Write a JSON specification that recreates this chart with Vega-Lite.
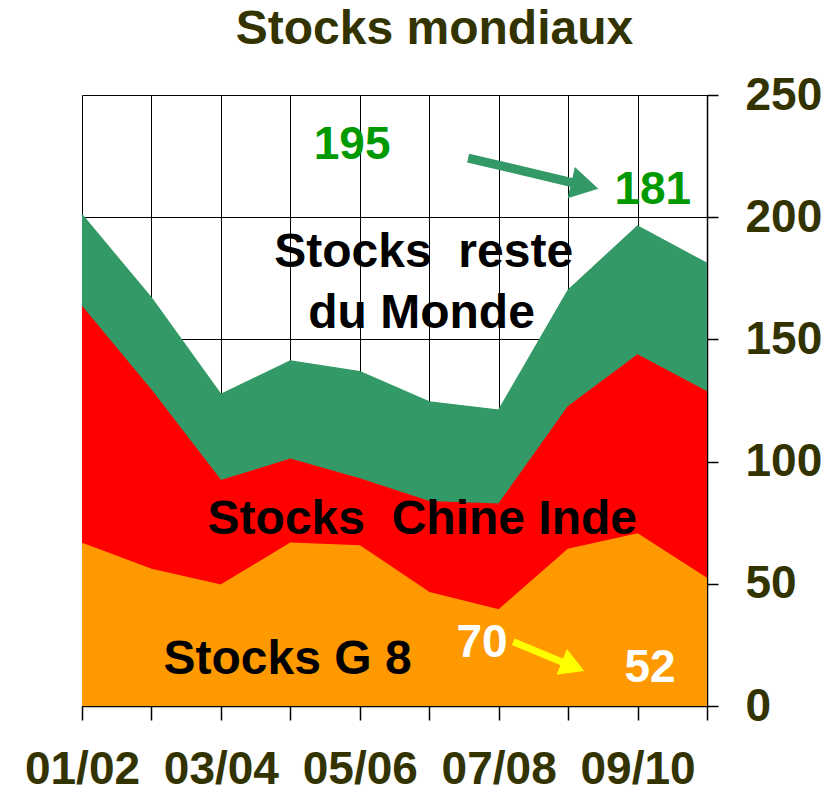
{
  "$schema": "https://vega.github.io/schema/vega-lite/v6.json",
  "width": 625,
  "height": 611,
  "autosize": "none",
  "padding": {"left": 82, "top": 95, "right": 133, "bottom": 86},
  "background": "white",
  "title": {
    "text": "Stocks mondiaux",
    "font": "Liberation Sans",
    "fontSize": 48,
    "fontWeight": "bold",
    "color": "#333300",
    "anchor": "middle",
    "frame": "group",
    "dx": 40,
    "baseline": "alphabetic",
    "offset": -20
  },
  "config": {
    "view": {"stroke": null},
    "axis": {
      "labelFont": "Liberation Sans",
      "labelFontSize": 46,
      "labelFontWeight": "bold",
      "labelColor": "#333300",
      "grid": true,
      "gridColor": "black",
      "gridOpacity": 1,
      "gridWidth": 1,
      "domainColor": "black",
      "domainWidth": 1.5,
      "tickColor": "black",
      "tickWidth": 1.5,
      "title": null
    }
  },
  "datasets": {
    "stocks": [
      {"idx": 0, "serie": "G 8", "ordre": 1, "valeur": 66.6},
      {"idx": 1, "serie": "G 8", "ordre": 1, "valeur": 55.9},
      {"idx": 2, "serie": "G 8", "ordre": 1, "valeur": 49.5},
      {"idx": 3, "serie": "G 8", "ordre": 1, "valeur": 66.6},
      {"idx": 4, "serie": "G 8", "ordre": 1, "valeur": 65.5},
      {"idx": 5, "serie": "G 8", "ordre": 1, "valeur": 46.4},
      {"idx": 6, "serie": "G 8", "ordre": 1, "valeur": 39.3},
      {"idx": 7, "serie": "G 8", "ordre": 1, "valeur": 64.1},
      {"idx": 8, "serie": "G 8", "ordre": 1, "valeur": 70.4},
      {"idx": 9, "serie": "G 8", "ordre": 1, "valeur": 52.2},
      {"idx": 0, "serie": "Chine Inde", "ordre": 2, "valeur": 96.8},
      {"idx": 1, "serie": "Chine Inde", "ordre": 2, "valeur": 73.2},
      {"idx": 2, "serie": "Chine Inde", "ordre": 2, "valeur": 42.7},
      {"idx": 3, "serie": "Chine Inde", "ordre": 2, "valeur": 34.4},
      {"idx": 4, "serie": "Chine Inde", "ordre": 2, "valeur": 27.5},
      {"idx": 5, "serie": "Chine Inde", "ordre": 2, "valeur": 37.2},
      {"idx": 6, "serie": "Chine Inde", "ordre": 2, "valeur": 43.3},
      {"idx": 7, "serie": "Chine Inde", "ordre": 2, "valeur": 58.4},
      {"idx": 8, "serie": "Chine Inde", "ordre": 2, "valeur": 73.2},
      {"idx": 9, "serie": "Chine Inde", "ordre": 2, "valeur": 76.4},
      {"idx": 0, "serie": "reste du Monde", "ordre": 3, "valeur": 37.6},
      {"idx": 1, "serie": "reste du Monde", "ordre": 3, "valeur": 37.9},
      {"idx": 2, "serie": "reste du Monde", "ordre": 3, "valeur": 35.3},
      {"idx": 3, "serie": "reste du Monde", "ordre": 3, "valeur": 40.2},
      {"idx": 4, "serie": "reste du Monde", "ordre": 3, "valeur": 43.8},
      {"idx": 5, "serie": "reste du Monde", "ordre": 3, "valeur": 40.9},
      {"idx": 6, "serie": "reste du Monde", "ordre": 3, "valeur": 38.5},
      {"idx": 7, "serie": "reste du Monde", "ordre": 3, "valeur": 47.7},
      {"idx": 8, "serie": "reste du Monde", "ordre": 3, "valeur": 52.8},
      {"idx": 9, "serie": "reste du Monde", "ordre": 3, "valeur": 52.5}
    ],
    "textes": [
      {"role": "vert", "texte": "195", "x": 3.89, "y": 229.5},
      {"role": "vert", "texte": "181", "x": 8.22, "y": 211.3},
      {"role": "noir", "texte": "Stocks \u00a0reste", "x": 4.92, "y": 185.5},
      {"role": "noir", "texte": "du Monde", "x": 4.89, "y": 160.5},
      {"role": "noir", "texte": "Stocks \u00a0Chine Inde", "x": 4.9, "y": 76.0},
      {"role": "noir", "texte": "Stocks G 8", "x": 2.96, "y": 18.8},
      {"role": "blanc", "texte": "70", "x": 5.76, "y": 25.6},
      {"role": "blanc", "texte": "52", "x": 8.18, "y": 15.4}
    ],
    "fleches": [
      {"fleche": "verte", "x": 5.56, "y": 224.2, "x2": 7.24, "y2": 212.9},
      {"fleche": "jaune", "x": 6.21, "y": 26.3, "x2": 7.07, "y2": 16.2}
    ]
  },
  "layer": [
    {
      "data": {"name": "stocks"},
      "mark": {"type": "area", "opacity": 1, "line": {"color": "black", "strokeWidth": 1.2}},
      "encoding": {
        "x": {
          "field": "idx",
          "type": "quantitative",
          "scale": {"domain": [0, 9], "nice": false, "zero": false},
          "axis": {
            "orient": "bottom",
            "values": [0, 1, 2, 3, 4, 5, 6, 7, 8, 9],
            "tickSize": 14,
            "labelPadding": 27,
            "labelOverlap": false,
            "labelFlush": false,
            "labelExpr": "datum.value % 2 == 0 ? ['01/02','02/03','03/04','04/05','05/06','06/07','07/08','08/09','09/10','10/11'][datum.value] : ''"
          }
        },
        "y": {
          "field": "valeur",
          "type": "quantitative",
          "stack": "zero",
          "scale": {"domain": [0, 250], "nice": false},
          "axis": {
            "orient": "right",
            "values": [0, 50, 100, 150, 200, 250],
            "tickSize": 11,
            "labelPadding": 27,
            "labelFlush": false
          }
        },
        "color": {
          "field": "serie",
          "type": "nominal",
          "scale": {"domain": ["G 8", "Chine Inde", "reste du Monde"], "range": ["#FF9900", "#FF0000", "#339966"]},
          "legend": null
        },
        "order": {"field": "ordre", "type": "quantitative"}
      }
    },
    {
      "data": {"name": "fleches"},
      "transform": [{"filter": "datum.fleche == 'verte'"}],
      "mark": {"type": "rule", "color": "#339966", "strokeWidth": 9},
      "encoding": {
        "x": {"field": "x", "type": "quantitative"},
        "y": {"field": "y", "type": "quantitative"},
        "x2": {"field": "x2"},
        "y2": {"field": "y2"}
      }
    },
    {
      "data": {"name": "fleches"},
      "transform": [{"filter": "datum.fleche == 'verte'"}],
      "mark": {"type": "point", "shape": "triangle-right", "filled": true, "opacity": 1, "color": "#339966", "size": 1024, "angle": 13},
      "encoding": {
        "x": {"field": "x2", "type": "quantitative"},
        "y": {"field": "y2", "type": "quantitative"}
      }
    },
    {
      "data": {"name": "fleches"},
      "transform": [{"filter": "datum.fleche == 'jaune'"}],
      "mark": {"type": "rule", "color": "#FFFF00", "strokeWidth": 7},
      "encoding": {
        "x": {"field": "x", "type": "quantitative"},
        "y": {"field": "y", "type": "quantitative"},
        "x2": {"field": "x2"},
        "y2": {"field": "y2"}
      }
    },
    {
      "data": {"name": "fleches"},
      "transform": [{"filter": "datum.fleche == 'jaune'"}],
      "mark": {"type": "point", "shape": "triangle-right", "filled": true, "opacity": 1, "color": "#FFFF00", "size": 784, "angle": 22},
      "encoding": {
        "x": {"field": "x2", "type": "quantitative"},
        "y": {"field": "y2", "type": "quantitative"}
      }
    },
    {
      "data": {"name": "textes"},
      "transform": [{"filter": "datum.role == 'vert'"}],
      "mark": {"type": "text", "font": "Liberation Sans", "fontSize": 46, "fontWeight": "bold", "color": "#009900", "align": "center", "baseline": "middle"},
      "encoding": {
        "x": {"field": "x", "type": "quantitative"},
        "y": {"field": "y", "type": "quantitative"},
        "text": {"field": "texte"}
      }
    },
    {
      "data": {"name": "textes"},
      "transform": [{"filter": "datum.role == 'noir'"}],
      "mark": {"type": "text", "font": "Liberation Sans", "fontSize": 48, "fontWeight": "bold", "color": "black", "align": "center", "baseline": "middle"},
      "encoding": {
        "x": {"field": "x", "type": "quantitative"},
        "y": {"field": "y", "type": "quantitative"},
        "text": {"field": "texte"}
      }
    },
    {
      "data": {"name": "textes"},
      "transform": [{"filter": "datum.role == 'blanc'"}],
      "mark": {"type": "text", "font": "Liberation Sans", "fontSize": 46, "fontWeight": "bold", "color": "white", "align": "center", "baseline": "middle"},
      "encoding": {
        "x": {"field": "x", "type": "quantitative"},
        "y": {"field": "y", "type": "quantitative"},
        "text": {"field": "texte"}
      }
    }
  ]
}
